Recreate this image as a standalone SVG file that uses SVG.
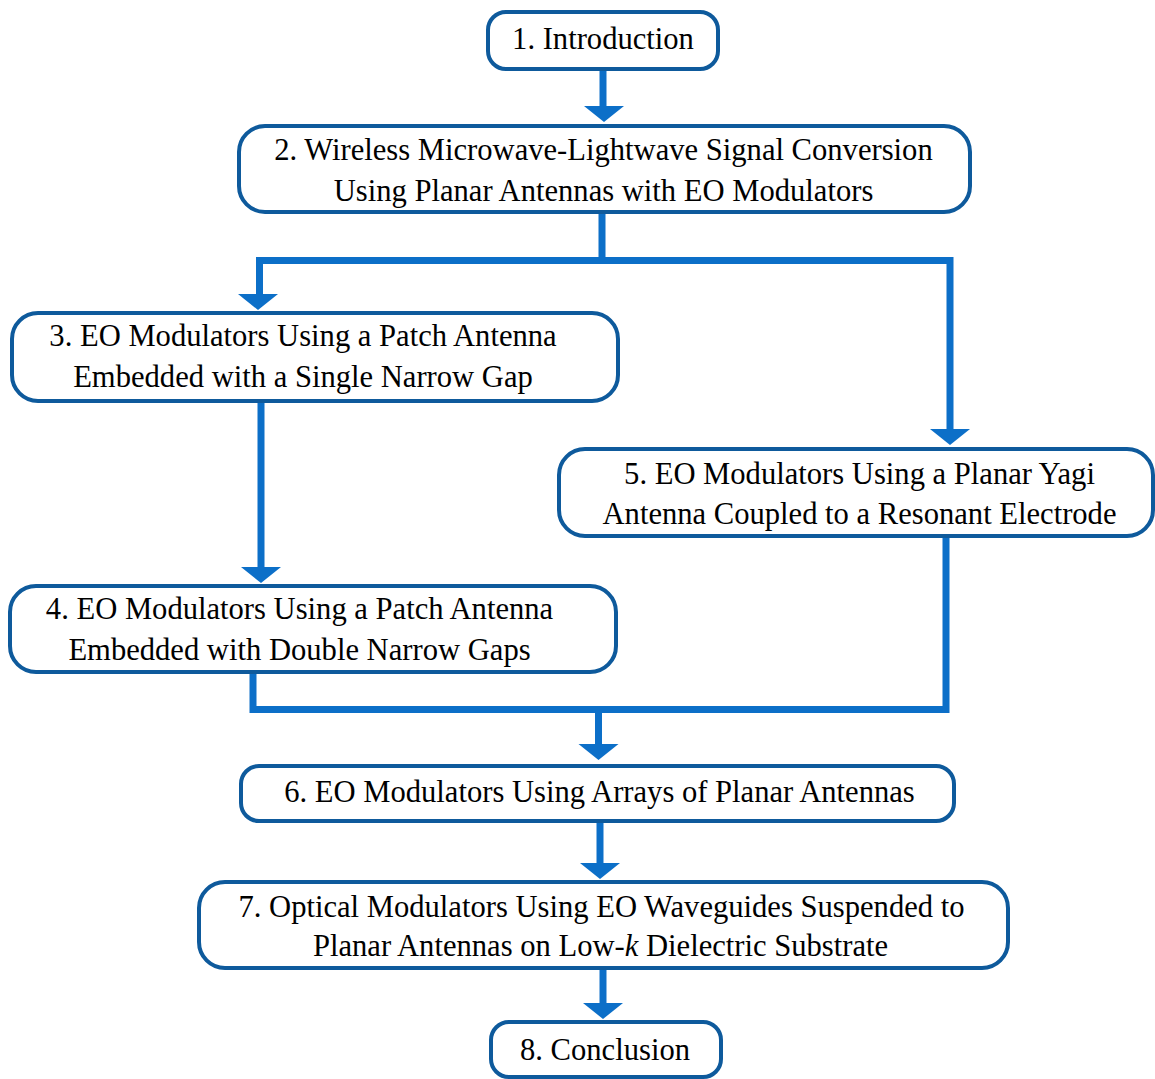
<svg xmlns="http://www.w3.org/2000/svg" width="1155" height="1079" viewBox="0 0 1155 1079">
<defs>
<style>
.box{fill:#fff;stroke:#0E5A9C;stroke-width:4}
.t{font-family:"Liberation Serif","Times New Roman",serif;font-size:30.6px;fill:#000;text-anchor:middle}
.c{fill:none;stroke:#0C6FC8;stroke-width:7}
.ah{fill:#0C6FC8}
</style>
</defs>
<rect width="1155" height="1079" fill="#fff"/>
<g id="connectors">
<path class="c" d="M603 69V107"/>
<polygon class="ah" points="584,106 624,106 604,122"/>
<path class="c" d="M602 212V260.5M256 260.5H950V430M259.5 257V295"/>
<polygon class="ah" points="238,294 278,294 258,310"/>
<polygon class="ah" points="930,429 970,429 950,445"/>
<path class="c" d="M261 401V568"/>
<polygon class="ah" points="241,567 281,567 261,583"/>
<path class="c" d="M946 536V709.5H253V672M598.5 709.5V745"/>
<polygon class="ah" points="578.5,744 618.5,744 598.5,760"/>
<path class="c" d="M600 821V864"/>
<polygon class="ah" points="580,863 620,863 600,879"/>
<path class="c" d="M603 968V1004"/>
<polygon class="ah" points="583,1003 623,1003 603,1019"/>
</g>
<g id="n1"><rect class="box" x="488" y="12" width="230" height="57" rx="18"/><text class="t" x="603" y="49">1. Introduction</text></g>
<g id="n2"><rect class="box" x="239" y="126" width="731" height="86" rx="26"/><text class="t" x="603.5" y="160">2. Wireless Microwave-Lightwave Signal Conversion</text><text class="t" x="603.5" y="201">Using Planar Antennas with EO Modulators</text></g>
<g id="n3"><rect class="box" x="12" y="313" width="606" height="88" rx="26"/><text class="t" x="303" y="346">3. EO Modulators Using a Patch Antenna</text><text class="t" x="303" y="387">Embedded with a Single Narrow Gap</text></g>
<g id="n5"><rect class="box" x="559" y="449" width="594" height="87" rx="26"/><text class="t" x="859.5" y="484">5. EO Modulators Using a Planar Yagi</text><text class="t" x="859.5" y="524">Antenna Coupled to a Resonant Electrode</text></g>
<g id="n4"><rect class="box" x="10" y="586" width="606" height="86" rx="26"/><text class="t" x="299.5" y="619">4. EO Modulators Using a Patch Antenna</text><text class="t" x="299.5" y="660">Embedded with Double Narrow Gaps</text></g>
<g id="n6"><rect class="box" x="241" y="766" width="713" height="55" rx="18"/><text class="t" x="599.5" y="802">6. EO Modulators Using Arrays of Planar Antennas</text></g>
<g id="n7"><rect class="box" x="199" y="882" width="809" height="86" rx="26"/><text class="t" x="601.5" y="917">7. Optical Modulators Using EO Waveguides Suspended to</text><text class="t" x="600.5" y="956">Planar Antennas on Low-<tspan font-style="italic">k</tspan> Dielectric Substrate</text></g>
<g id="n8"><rect class="box" x="491" y="1022" width="230" height="55" rx="18"/><text class="t" x="605" y="1060">8. Conclusion</text></g>
</svg>
